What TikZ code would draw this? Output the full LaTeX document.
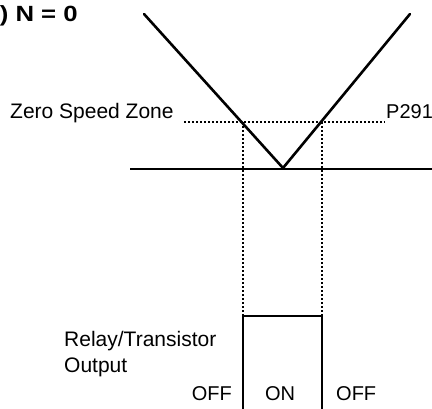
\documentclass[tikz,border=0pt]{standalone}
\usepackage{fontspec}
\setmainfont{Liberation Sans}
\begin{document}
\begin{tikzpicture}[x=1pt,y=-1pt,
  thickline/.style={line width=2.6pt,line cap=round,line join=miter},
  dotline/.style={line width=1.2pt,dash pattern=on 2pt off 2pt},
  lbl/.style={inner sep=0pt,font=\fontsize{21}{25}\selectfont},
  sml/.style={inner sep=0pt,font=\fontsize{20}{24}\selectfont},
  ttl/.style={inner sep=0pt,font=\fontsize{22}{26}\selectfont\bfseries}]
\useasboundingbox (0,0) rectangle (432,408);
% title
\node[ttl,anchor=base east,xscale=1.17] (title) at (78,21) {) N = 0};
% V curve
\coordinate (vl) at (144,14);
\coordinate (vb) at (283,168);
\coordinate (vr) at (410,14);
\draw[thickline] (vl) -- (vb) -- (vr);
% axis
\coordinate (ax1) at (130,169);
\coordinate (ax2) at (432,169);
\draw[line width=2.2pt] (ax1) -- (ax2);
% zero speed zone
\node[lbl,anchor=base west] (zsz) at (10,118) {Zero Speed Zone};
\node[sml,anchor=base west] (p291) at (386,118) {P291};
\coordinate (zl) at (184,122);
\coordinate (zr) at (385,122);
\draw[dotline] (zl) -- (zr);
\coordinate (il) at (243,122);
\coordinate (ir) at (322,122);
\coordinate (rl) at (243,316);
\coordinate (rr) at (322,316);
\draw[dotline] (il) -- (rl);
\draw[dotline] (ir) -- (rr);
% relay output pulse
\coordinate (bl) at (243,410);
\coordinate (br) at (322,410);
\draw[thickline,line cap=butt] (bl) -- (rl) -- (rr) -- (br);
\node[lbl,anchor=base west] (relay) at (64,346) {Relay/Transistor};
\node[lbl,anchor=base west] (output) at (64,372) {Output};
\node[sml,anchor=base east] (off1) at (232,400) {OFF};
\node[sml,anchor=base] (on) at (280,400) {ON};
\node[sml,anchor=base west] (off2) at (336,400) {OFF};
\end{tikzpicture}
\end{document}
